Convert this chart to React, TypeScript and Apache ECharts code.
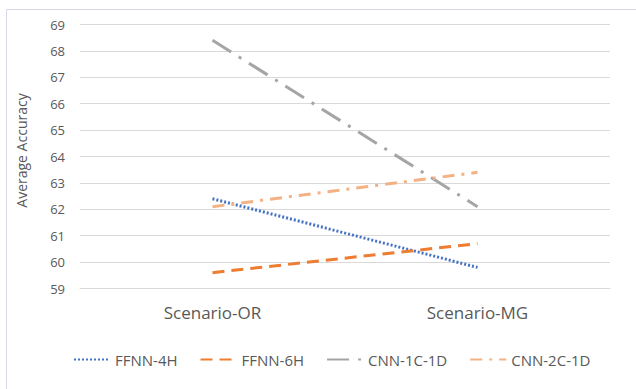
import React, { useEffect, useRef } from "react";
import * as echarts from "echarts";

const categories = ["Scenario-OR", "Scenario-MG"];
const ffnn4h = [62.4, 59.8];
const ffnn6h = [59.6, 60.7];
const cnn1c1d = [68.4, 62.1];
const cnn2c1d = [62.1, 63.4];
const seriesNames = ["FFNN-4H", "FFNN-6H", "CNN-1C-1D", "CNN-2C-1D"];

export default function App() {
  const ref = useRef<HTMLDivElement>(null);
  useEffect(() => {
    const chart = echarts.init(ref.current!, null, { renderer: "svg" });
    const font = "Open Sans";
    const mk = (name: string, data: number[], color: string, type: any, width = 3) => ({
      name,
      type: "line",
      data,
      symbol: "none",
      lineStyle: { color, width, type, cap: "butt" },
      itemStyle: { color },
    });
    chart.setOption({
      animation: false,
      backgroundColor: "#ffffff",
      graphic: [
        {
          type: "rect",
          shape: { x: 6.5, y: 9.5, width: 700, height: 500 },
          style: { fill: "none", stroke: "#d6d8ea", lineWidth: 1 },
          silent: true,
        },
      ],
      grid: { left: 80, right: 26, top: 24.5, bottom: 100.5 },
      legend: {
        top: 347,
        left: 68,
        itemWidth: 36,
        itemHeight: 10,
        itemGap: 22,
        itemStyle: { opacity: 0 },
        textStyle: { color: "#595959", fontSize: 15, fontFamily: font },
        data: seriesNames,
      },
      xAxis: {
        type: "category",
        data: categories,
        boundaryGap: true,
        axisLine: { show: true, lineStyle: { color: "#d9d9d9", width: 1 } },
        axisTick: { show: false },
        axisLabel: { color: "#595959", fontSize: 17, margin: 15, fontFamily: font },
      },
      yAxis: {
        type: "value",
        min: 59,
        max: 69,
        interval: 1,
        name: "Average Accuracy",
        nameLocation: "middle",
        nameGap: 52,
        nameTextStyle: { color: "#595959", fontSize: 14, fontFamily: font, padding: [0, 0, 0, 12] },
        axisLine: { show: false },
        axisTick: { show: false },
        axisLabel: { color: "#595959", fontSize: 13, margin: 15, fontFamily: font },
        splitLine: { lineStyle: { color: "#d9d9d9", width: 1 } },
      },
      series: [
        mk(seriesNames[0], ffnn4h, "#4472C4", [2, 2], 3),
        mk(seriesNames[1], ffnn6h, "#ED7D31", [12, 7], 3),
        mk(seriesNames[2], cnn1c1d, "#A5A5A5", [22, 9, 3, 9], 3),
        mk(seriesNames[3], cnn2c1d, "#F4B183", [12, 7, 3, 7], 3),
      ],
    });
    return () => chart.dispose();
  }, []);
  return (
    <div
      ref={ref}
      style={{ position: "fixed", left: 0, top: 0, width: 636, height: 389 }}
    />
  );
}
